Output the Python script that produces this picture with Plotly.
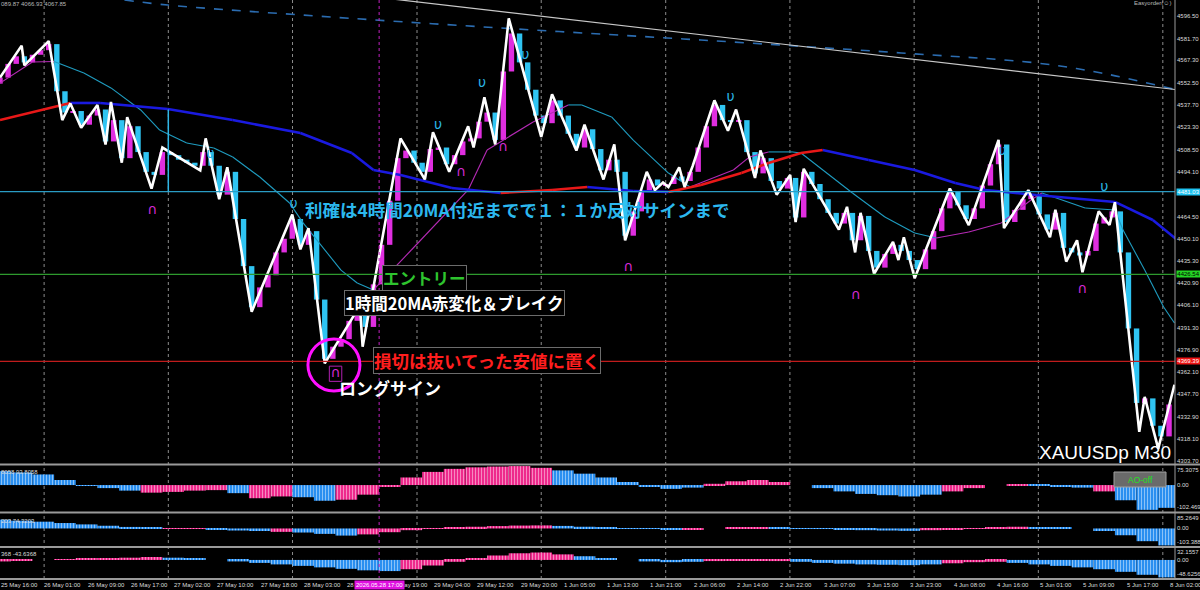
import plotly.graph_objects as go

W, H = 1200, 590
AXIS_PX = 1175          # right price-scale boundary (px)
X_MAX = 434.2           # bars visible in the chart window

# ---------------- data ----------------
PRICE_TICKS = [4596.50, 4581.70, 4567.30, 4552.50, 4537.70, 4523.30, 4508.50, 4494.10,
               4464.50, 4450.10, 4435.30, 4420.90, 4406.10, 4391.30, 4376.90,
               4362.10, 4347.70, 4332.90, 4318.10, 4303.70]
PRICE_RANGE = [4302.51, 4607.02]

TIME_LABELS = ["25 May 16:00", "26 May 01:00", "26 May 09:00", "26 May 17:00", "27 May 02:00",
               "27 May 10:00", "27 May 18:00", "28 May 03:00", "28 May 11:00", "28 May 19:00",
               "29 May 04:00", "29 May 12:00", "29 May 20:00", "1 Jun 05:00", "1 Jun 13:00",
               "1 Jun 21:00", "2 Jun 06:00", "2 Jun 14:00", "2 Jun 22:00", "3 Jun 07:00",
               "3 Jun 15:00", "3 Jun 23:00", "4 Jun 08:00", "4 Jun 16:00", "5 Jun 01:00",
               "5 Jun 09:00", "5 Jun 17:00", "8 Jun 02:00"]
TIME_LABEL_BARS = [0, 16, 32, 48, 64, 80, 96, 112, 128, 144, 160, 176, 192, 208, 224, 240,
                   256, 272, 288, 304, 320, 336, 352, 368, 384, 400, 416, 432]
GRID_BARS = [16.3, 62.2, 108.1, 154.1, 200.0, 246.0, 291.9, 337.8, 383.7, 429.7]
SELECTED_BAR = 140.1
SELECTED_TIME = "2026.05.28 17:00"

# zigzag pivots
ZZ_BAR = [0, 8, 9, 18, 23, 26, 30, 36, 39, 41, 45, 47, 56, 60, 74, 76, 81, 84, 93, 108, 111,
          114, 120, 133, 134, 148, 157, 160, 166, 173, 175, 179, 183, 188, 200, 204, 213, 216,
          223, 227, 231, 239, 242, 245, 247, 251, 253, 256, 264, 269, 272, 279, 281, 287, 292,
          294, 297, 310, 313, 316, 318, 323, 330, 332, 334, 338, 351, 358, 369, 371, 380, 388,
          390, 394, 398, 400, 406, 410, 412, 421, 423, 428, 434]
ZZ_PRICE = [4556, 4577, 4564, 4580, 4528, 4539, 4523, 4538, 4512, 4540, 4500, 4530, 4483, 4510,
            4495, 4516, 4476, 4497, 4402, 4466, 4443, 4457, 4368, 4406, 4379, 4516, 4489, 4520,
            4494, 4524, 4510, 4543, 4512, 4595, 4517, 4545, 4508, 4525, 4489, 4512, 4449, 4494,
            4482, 4487, 4484, 4497, 4484, 4498, 4541, 4521, 4535, 4490, 4508, 4479, 4492, 4461,
            4496, 4456, 4471, 4441, 4467, 4427, 4448, 4436, 4451, 4424, 4483, 4459, 4515, 4457,
            4482, 4451, 4469, 4435, 4449, 4428, 4468, 4459, 4474, 4323, 4346, 4312, 4354]

# candles (one every 3 bars)
CANDLE_OPEN0 = 4552
CANDLE_CLOSE = [4556, 4565, 4570, 4566, 4571, 4574, 4578, 4547, 4533, 4534, 4525, 4531, 4535,
                4514, 4528, 4503, 4524, 4507, 4494, 4492, 4507, 4505, 4502, 4500, 4498, 4507,
                4498, 4479, 4494, 4463, 4432, 4405, 4418, 4426, 4441, 4450, 4463, 4446, 4455,
                4410, 4371, 4379, 4384, 4396, 4400, 4392, 4420, 4446, 4475, 4503, 4508, 4500,
                4494, 4509, 4510, 4499, 4505, 4514, 4516, 4527, 4533, 4515, 4560, 4585, 4566,
                4548, 4531, 4526, 4541, 4531, 4519, 4510, 4522, 4509, 4495, 4502, 4494, 4452,
                4468, 4481, 4489, 4485, 4486, 4491, 4488, 4494, 4510, 4524, 4538, 4528, 4527,
                4528, 4507, 4493, 4503, 4488, 4483, 4490, 4464, 4494, 4486, 4476, 4467, 4460,
                4467, 4449, 4465, 4442, 4431, 4440, 4446, 4442, 4436, 4430, 4443, 4455, 4470,
                4481, 4472, 4463, 4470, 4485, 4499, 4512, 4461, 4469, 4476, 4479, 4466, 4456,
                4467, 4444, 4441, 4439, 4442, 4460, 4464, 4468, 4441, 4391, 4342, 4345, 4327,
                4320, 4341]
CANDLE_BAR = list(range(0, 3 * len(CANDLE_CLOSE), 3))

# 4H 20MA (thick, red rising / blue falling)
MA4_BAR = [0, 26, 37, 62, 86, 111, 130, 138, 148, 167, 185, 204, 217, 234, 247, 259, 274, 284,
           296, 304, 321, 338, 353, 364, 383, 412, 426, 435]
MA4_VAL = [4528.1, 4539.3, 4539.3, 4535.3, 4528.1, 4519.5, 4506.4, 4495.2, 4491.9, 4483.4,
           4480.1, 4482.1, 4484.0, 4481.4, 4480.8, 4485.4, 4493.2, 4499.8, 4506.4, 4508.4,
           4501.8, 4495.2, 4486.7, 4482.1, 4478.8, 4474.2, 4462.3, 4449.2]

# 1H 20MA (thin, magenta rising / cyan falling)
MA1_BAR = [0, 12, 20, 31, 41, 52, 59, 69, 79, 86, 96, 107, 112, 126, 132, 138, 152, 173, 180,
           197, 210, 215, 226, 234, 247, 255, 271, 277, 284, 293, 296, 315, 327, 338, 346, 358,
           370, 381, 385, 401, 412, 415, 423, 430, 434]
MA1_VAL = [4552.4, 4566.2, 4566.6, 4559.0, 4549.2, 4534.7, 4521.5, 4513.0, 4509.7, 4503.8,
           4490.6, 4473.5, 4460.4, 4429.4, 4420.9, 4416.3, 4442.6, 4482.1, 4508.4, 4526.8,
           4538.0, 4538.0, 4530.1, 4514.9, 4493.2, 4484.0, 4495.2, 4503.8, 4507.1, 4507.1,
           4506.4, 4480.1, 4464.3, 4453.8, 4450.5, 4454.4, 4460.4, 4475.5, 4480.1, 4470.2,
           4468.9, 4455.8, 4429.4, 4405.1, 4394.6]

# long MA (dashed)
MAD_BAR = [46, 62, 111, 185, 259, 333, 383, 407, 435]
MAD_VAL = [4607.0, 4603.7, 4597.2, 4588.6, 4580.7, 4572.2, 4565.6, 4559.0, 4547.8]

# trend line
TREND_BAR = [120, 435]
TREND_VAL = [4612.8, 4548.0]

# horizontal levels
LEVEL_TP, LEVEL_ENTRY, LEVEL_SL = 4481.03, 4426.54, 4369.39

# signal arrows
SELL_BAR = [77.8, 108.5, 161.9, 178.1, 194.1, 270.0, 370.4, 408.1]
SELL_PRICE = [4505.1, 4472.2, 4524.2, 4551.8, 4570.2, 4542.6, 4507.1, 4483.4]
BUY_BAR = [56.3, 124.0, 170.4, 185.9, 232.2, 316.3, 400.0]
BUY_PRICE = [4468.9, 4361.7, 4493.9, 4509.7, 4430.8, 4413.0, 4416.3]

# marked long signal
CIRCLE_BAR, CIRCLE_PRICE = 123.4, 4367.0

# oscillator panels (one value every 8 bars)
HIST_BAR = list(range(0, 433, 8))
AO1 = [55, 50, 42, 20, -3, -12, -22, -30, -27, -22, -20, -32, -52, -45, -48, -62, -58, -38, -5,
       30, 52, 64, 70, 73, 75, 68, 58, 45, 30, 12, -5, -15, -10, 5, 15, 20, 12, 0, -12, -25,
       -35, -40, -45, -38, -25, -12, 0, 3, 2, -4, -10, -25, -60, -98, -90]
AO1_COL = "bbbbbbbppppbppbbppppppppppbbbbbbbppppbbbbbbbppppbbbpbbbp"[:55]
AO2 = [52, 46, 40, 32, 24, 16, 9, 3, -3, -2, -8, -12, -15, -20, -24, -32, -42, -35, -22, -10,
       -2, 5, 10, 14, 17, 18, 15, 10, 6, 2, -3, -6, -4, 0, 4, 7, 5, 2, -2, -6, -10, -12, -14,
       -10, -4, 2, 8, 10, 8, 5, 0, -15, -40, -75, -100]
AO2_COL = "bbbbbbbbppbbbpbbbpppppppppbbbbbbppppbbbbbbbpppppbbbbbbb"
AO3 = [-4, -2, 0, 2, 3, 5, 6, 8, 6, 3, 0, -4, -8, -12, -16, -20, -24, -28, -30, -25, -15, -5,
       5, 12, 18, 20, 15, 10, 5, 0, -4, -6, -5, -3, -2, -1, -3, -5, -8, -10, -12, -13, -14,
       -12, -9, -6, -5, -8, -12, -16, -20, -25, -32, -40, -47]
AO3_COL = "ppppppppbbbbbbbbbbbppppppppbbbbbbppppbbbbbbbpppbbbbbbbbb"[:55]
AO1_RANGE = [-102.469, 75.3075]
AO2_RANGE = [-103.388, 85.2649]
AO3_RANGE = [-48.6256, 32.1557]
PANEL_HEADERS = ["8058 93.8058", "203 74.3203", "368 -43.6368"]

# ---------------- style ----------------
BG = "black"
CYAN = "#2fc4f2"
MAGENTA = "#e02ee0"
PINK = "#ee2a8c"
HBLUE = "#2a8ff0"
GRAY = "#8c8c8c"
TXT = "#dcdcdc"
SMALL = 6.0
MAIN_PX = (0, 463)
P1_PX = (466, 511)
P2_PX = (514, 546)
P3_PX = (548, 578)


def py(p):
    return 1 - p / H


def px(p):
    return p / W


fig = go.Figure()

# candles
opens = [CANDLE_OPEN0] + CANDLE_CLOSE[:-1]
fig.add_trace(go.Bar(
    x=CANDLE_BAR, base=opens, y=[c - o for c, o in zip(CANDLE_CLOSE, opens)], width=2.0,
    marker=dict(color=[MAGENTA if c >= o else CYAN for c, o in zip(CANDLE_CLOSE, opens)],
                line_width=0),
    xaxis="x", yaxis="y", showlegend=False, hoverinfo="skip"))


def split_slope(xs, ys):
    ux, uy, dx, dy = [], [], [], []
    for i in range(len(xs) - 1):
        if ys[i + 1] > ys[i]:
            ux += [xs[i], xs[i + 1], None]
            uy += [ys[i], ys[i + 1], None]
        else:
            dx += [xs[i], xs[i + 1], None]
            dy += [ys[i], ys[i + 1], None]
    return ux, uy, dx, dy


fig.add_trace(go.Scatter(x=MAD_BAR, y=MAD_VAL, mode="lines",
                         line=dict(color="#2b6cb0", width=1.6, dash="dash", shape="spline"),
                         showlegend=False, hoverinfo="skip"))
fig.add_trace(go.Scatter(x=TREND_BAR, y=TREND_VAL, mode="lines",
                         line=dict(color="#c8c8c8", width=1.2),
                         showlegend=False, hoverinfo="skip"))

ux, uy, dx, dy = split_slope(MA1_BAR, MA1_VAL)
fig.add_trace(go.Scatter(x=dx, y=dy, mode="lines", line=dict(color="#1f9cc0", width=1.1),
                         showlegend=False, hoverinfo="skip"))
fig.add_trace(go.Scatter(x=ux, y=uy, mode="lines", line=dict(color="#b52ab5", width=1.1),
                         showlegend=False, hoverinfo="skip"))
ux, uy, dx, dy = split_slope(MA4_BAR, MA4_VAL)
fig.add_trace(go.Scatter(x=dx, y=dy, mode="lines", line=dict(color="#1a1ae0", width=2.6),
                         showlegend=False, hoverinfo="skip"))
fig.add_trace(go.Scatter(x=ux, y=uy, mode="lines", line=dict(color="#e81818", width=2.6),
                         showlegend=False, hoverinfo="skip"))

fig.add_trace(go.Scatter(x=ZZ_BAR, y=ZZ_PRICE, mode="lines",
                         line=dict(color="white", width=2.6),
                         showlegend=False, hoverinfo="skip"))

fig.add_trace(go.Scatter(x=SELL_BAR, y=SELL_PRICE, mode="text", text=["υ"] * len(SELL_BAR),
                         textfont=dict(color="#2ab4e4", size=14, family="DejaVu Sans"),
                         showlegend=False, hoverinfo="skip"))
fig.add_trace(go.Scatter(x=BUY_BAR, y=BUY_PRICE, mode="text", text=["∩"] * len(BUY_BAR),
                         textfont=dict(color="#d42ad4", size=14, family="DejaVu Sans"),
                         showlegend=False, hoverinfo="skip"))

for vals, cols, yax in [(AO1, AO1_COL, "y2"), (AO2, AO2_COL, "y3"), (AO3, AO3_COL, "y4")]:
    fig.add_trace(go.Bar(
        x=HIST_BAR, y=vals, width=8, xaxis="x", yaxis=yax,
        marker=dict(color=[PINK if c == "p" else HBLUE for c in cols], line_width=0,
                    pattern=dict(shape="|", fgcolor="black", size=3, solidity=0.3)),
        showlegend=False, hoverinfo="skip"))

shapes = []
annotations = []

for gb in GRID_BARS:
    shapes.append(dict(type="line", xref="x", yref="paper", x0=gb, x1=gb, y0=py(579), y1=1,
                       line=dict(color=GRAY, width=1, dash="dot"), layer="below"))
shapes.append(dict(type="line", xref="x", yref="paper", x0=SELECTED_BAR, x1=SELECTED_BAR,
                   y0=py(579), y1=1, line=dict(color="#c020c0", width=1, dash="dot")))

for lvl, col in [(LEVEL_TP, "#2a9cc4"), (LEVEL_ENTRY, "#2e9a2e"), (LEVEL_SL, "#c01c1c")]:
    shapes.append(dict(type="line", xref="paper", yref="y", x0=0, x1=px(AXIS_PX), y0=lvl,
                       y1=lvl, line=dict(color=col, width=1.2)))

shapes.append(dict(type="line", xref="x", yref="y", x0=62.2, x1=62.2, y0=4481.0, y1=4535.0,
                   line=dict(color="#2fb6e6", width=1.5)))

r_bar, r_price = 26 / 2.706, 26 * 0.6577
shapes.append(dict(type="circle", xref="x", yref="y", x0=CIRCLE_BAR - r_bar,
                   x1=CIRCLE_BAR + r_bar, y0=CIRCLE_PRICE - r_price, y1=CIRCLE_PRICE + r_price,
                   line=dict(color="#ff10ff", width=3)))
shapes.append(dict(type="rect", xref="x", yref="y", x0=BUY_BAR[1] - 2.3, x1=BUY_BAR[1] + 2.3,
                   y0=BUY_PRICE[1] - 5.5, y1=BUY_PRICE[1] + 4.5,
                   line=dict(color="#b020b0", width=1)))

for yy in [464.5, 512.5, 547, 579]:
    shapes.append(dict(type="line", xref="paper", yref="paper", x0=0, x1=1, y0=py(yy),
                       y1=py(yy), line=dict(color="#9a9a9a", width=2.2)))
shapes.append(dict(type="line", xref="paper", yref="paper", x0=px(AXIS_PX), x1=px(AXIS_PX),
                   y0=py(579), y1=1, line=dict(color="#9a9a9a", width=1)))

shapes.append(dict(type="rect", xref="paper", yref="paper", x0=px(1114), x1=px(1166),
                   y0=py(487), y1=py(472), fillcolor="#6a6a6a",
                   line=dict(color="#a0a0a0", width=1)))

LAB_FONT = dict(size=SMALL, color=TXT, family="Liberation Sans")
for p in PRICE_TICKS:
    annotations.append(dict(x=px(AXIS_PX + 1), xref="paper", y=p, yref="y", text=f"{p:.2f}",
                            xanchor="left", yanchor="middle", showarrow=False, borderpad=0,
                            font=LAB_FONT))
for lvl, bg, fc in [(LEVEL_TP, "#1ec2f0", "white"), (LEVEL_ENTRY, "#24d424", "black"),
                    (LEVEL_SL, "#ee1414", "white")]:
    annotations.append(dict(x=px(AXIS_PX + 1), xref="paper", y=lvl, yref="y", text=f"{lvl:.2f}",
                            xanchor="left", yanchor="middle", showarrow=False, bgcolor=bg,
                            borderpad=0, width=23,
                            font=dict(size=SMALL, color=fc, family="Liberation Sans")))

for rng, yref in [(AO1_RANGE, "y2"), (AO2_RANGE, "y3"), (AO3_RANGE, "y4")]:
    for val, anc in [(rng[1], "top"), (0.0, "middle"), (rng[0], "bottom")]:
        txt = "0.00" if val == 0 else (f"{val:.4f}" if abs(val) < 100 else f"{val:.3f}")
        annotations.append(dict(x=px(AXIS_PX + 1), xref="paper", y=val, yref=yref, text=txt,
                                xanchor="left", yanchor=anc, showarrow=False, borderpad=0,
                                font=LAB_FONT))
for hdr, ypx in zip(PANEL_HEADERS, [472, 521, 554]):
    annotations.append(dict(x=0, xref="paper", y=py(ypx), yref="paper", text=hdr,
                            xanchor="left", yanchor="middle", showarrow=False, borderpad=0,
                            font=LAB_FONT))

for b, lab in zip(TIME_LABEL_BARS, TIME_LABELS):
    annotations.append(dict(x=b, xref="x", y=py(585), yref="paper", text=lab, xanchor="left",
                            yanchor="middle", showarrow=False, borderpad=0, font=LAB_FONT))
annotations.append(dict(x=SELECTED_BAR, xref="x", y=py(585), yref="paper", text=SELECTED_TIME,
                        xanchor="center", yanchor="middle", showarrow=False, bgcolor="#e010e0",
                        borderpad=1, font=dict(size=SMALL, color="white",
                                               family="Liberation Sans")))

annotations.append(dict(x=0, xref="paper", y=py(4), yref="paper",
                        text="089.87 4066.93 4067.85", xanchor="left", yanchor="middle",
                        showarrow=False, borderpad=0,
                        font=dict(size=SMALL, color="#b8b8b8", family="Liberation Sans")))
annotations.append(dict(x=px(1172), xref="paper", y=py(3), yref="paper", text="Easyorder(☺)",
                        xanchor="right", yanchor="middle", showarrow=False, borderpad=0,
                        font=dict(size=SMALL, color="#b8b8b8", family="Liberation Sans")))
annotations.append(dict(x=px(1173), xref="paper", y=py(452), yref="paper", text="XAUUSDp M30",
                        xanchor="right", yanchor="middle", showarrow=False,
                        font=dict(size=19, color="white", family="Liberation Sans")))
annotations.append(dict(x=px(1140), xref="paper", y=py(479.5), yref="paper", text="AO-off",
                        xanchor="center", yanchor="middle", showarrow=False,
                        font=dict(size=8.5, color="#22e022", family="Liberation Sans")))

JP = "Noto Sans CJK JP"
annotations.append(dict(x=px(303), xref="paper", y=py(209), yref="paper",
                        text="利確は4時間20MA付近までで１：１か反対サインまで", xanchor="left",
                        yanchor="middle", showarrow=False,
                        font=dict(size=17.5, color="#2cb8ee", family=JP, weight="bold")))
annotations.append(dict(x=px(424.5), xref="paper", y=py(277.5), yref="paper", text="エントリー",
                        xanchor="center", yanchor="middle", showarrow=False, bgcolor=BG,
                        bordercolor="#6c6c6c", borderwidth=1, borderpad=0,
                        font=dict(size=16.5, color="#2ec42e", family=JP, weight="bold")))
annotations.append(dict(x=px(454), xref="paper", y=py(303), yref="paper",
                        text="1時間20MA赤変化＆ブレイク", xanchor="center", yanchor="middle",
                        showarrow=False, bgcolor=BG, bordercolor="#6c6c6c", borderwidth=1,
                        borderpad=0,
                        font=dict(size=16.5, color="white", family=JP, weight="bold")))
annotations.append(dict(x=px(486.5), xref="paper", y=py(360), yref="paper",
                        text="損切は抜いてった安値に置く", xanchor="center", yanchor="middle",
                        showarrow=False, bgcolor=BG, bordercolor="#6c6c6c", borderwidth=1,
                        borderpad=0,
                        font=dict(size=17.5, color="#ff1e1e", family=JP, weight="bold")))
annotations.append(dict(x=px(337), xref="paper", y=py(387), yref="paper", text="ロングサイン",
                        xanchor="left", yanchor="middle", showarrow=False,
                        font=dict(size=17, color="white", family=JP, weight="bold")))

hidden = dict(visible=False, showgrid=False, zeroline=False, fixedrange=True)
fig.update_layout(
    width=W, height=H, margin=dict(l=0, r=0, t=0, b=0),
    paper_bgcolor=BG, plot_bgcolor=BG, barmode="overlay", showlegend=False,
    xaxis=dict(domain=[0, px(AXIS_PX)], range=[0, X_MAX], **hidden),
    yaxis=dict(domain=[py(MAIN_PX[1]), py(MAIN_PX[0])], range=PRICE_RANGE, **hidden),
    yaxis2=dict(domain=[py(P1_PX[1]), py(P1_PX[0])], range=AO1_RANGE, anchor="x", **hidden),
    yaxis3=dict(domain=[py(P2_PX[1]), py(P2_PX[0])], range=AO2_RANGE, anchor="x", **hidden),
    yaxis4=dict(domain=[py(P3_PX[1]), py(P3_PX[0])], range=AO3_RANGE, anchor="x", **hidden),
    shapes=shapes, annotations=annotations,
)

fig.write_html("out.html", config={"displayModeBar": False},
               post_script="document.body.style.margin='0';"
                           "document.body.style.overflow='hidden';"
                           "document.body.style.background='black';")
